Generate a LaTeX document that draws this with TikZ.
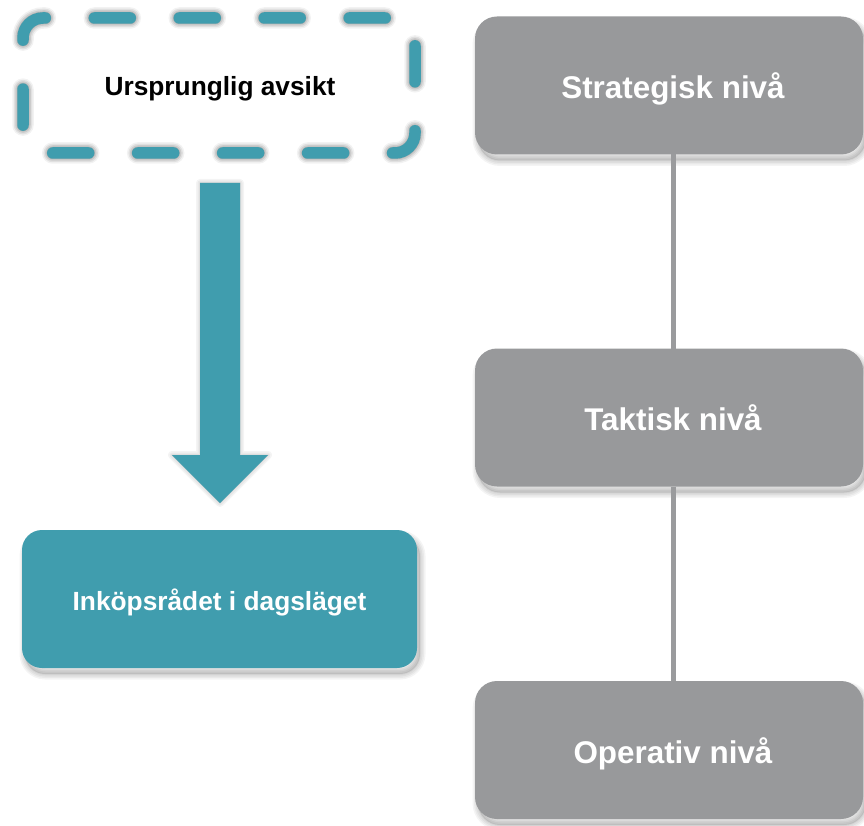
\documentclass[tikz,border=0pt]{standalone}
\usepackage{fontspec}
\setmainfont{Liberation Sans}
\usetikzlibrary{calc}
\definecolor{tealc}{HTML}{409DAE}
\definecolor{grayc}{HTML}{98999B}
\definecolor{linec}{HTML}{9A9B9D}
\tikzset{
  graybox/.style={fill=grayc, rounded corners=22pt, minimum width=388pt, minimum height=138pt, inner sep=0pt, outer sep=0pt, text=white, font=\bfseries\fontsize{31.4}{36}\selectfont, text height=26pt, text depth=0pt},
  tealbox/.style={fill=tealc, rounded corners=20pt, minimum width=395pt, minimum height=138pt, inner sep=0pt, outer sep=0pt, text=white, font=\bfseries\fontsize{26.3}{30}\selectfont, text height=22.8pt, text depth=0pt},
  origbox/.style={minimum width=392pt, minimum height=135pt, inner sep=0pt, outer sep=0pt, text=black, font=\bfseries\fontsize{26.3}{30}\selectfont, text height=19.8pt, text depth=0pt},
  dashline/.style={line width=11.5pt, line cap=round, dash pattern=on 36pt off 48.97pt, dash phase=2.3pt},
  levelline/.style={draw=linec, line width=5pt},
  shadowfill/.style={fill=black, opacity=0.10},
  shadowring/.style={draw=black, opacity=0.045, line join=round}
}
% soft shadow of a rounded box: centre x, centre y, width, height, radius
\newcommand{\boxshadow}[5]{%
  \begin{scope}[shift={(#1+3,#2-6)}]
    \fill[shadowfill, rounded corners=#5] (-#3/2,-#4/2) rectangle (#3/2,#4/2);
    \foreach \w in {2,5,8,11}{
      \draw[shadowring, line width=\w pt, rounded corners=#5] (-#3/2,-#4/2) rectangle (#3/2,#4/2);
    }
  \end{scope}}
\newcommand{\origpath}{($(orig.north west)+(0,-20)$) arc[start angle=180,end angle=90,radius=20pt] -- ($(orig.north east)+(-20,0)$) arc[start angle=90,end angle=0,radius=20pt] -- ($(orig.south east)+(0,20)$) arc[start angle=0,end angle=-90,radius=20pt] -- ($(orig.south west)+(20,0)$) arc[start angle=-90,end angle=-180,radius=20pt] -- cycle}
\newcommand{\arrowpath}{($(atop)+(-20,0)$) -- ($(atop)+(20,0)$) -- ($(atip)+(20,48)$) -- ($(atip)+(48,48)$) -- (atip) -- ($(atip)+(-48,48)$) -- ($(atip)+(-20,48)$) -- cycle}
\begin{document}
\begin{tikzpicture}[x=1pt,y=1pt]
\useasboundingbox (0,0) rectangle (864,-826);
\fill[white] (0,0) rectangle (864,-826);
% shadows of the solid boxes
\boxshadow{669}{-85.5}{388}{138}{22}
\boxshadow{669}{-417.5}{388}{138}{22}
\boxshadow{669}{-750}{388}{138}{22}
\boxshadow{219.5}{-599}{395}{138}{20}
% right column
\node[graybox] (strat) at (669,-85.5) {\hspace*{8pt}Strategisk nivå};
\node[graybox] (takt) at (669,-417.5) {\hspace*{8pt}Taktisk nivå};
\node[graybox] (oper) at (669,-750) {\hspace*{8pt}Operativ nivå};
\draw[levelline] ([xshift=4pt]strat.south) -- ([xshift=4pt]takt.north);
\draw[levelline] ([xshift=4pt]takt.south) -- ([xshift=4pt]oper.north);
% left column
\node[tealbox] (curr) at (219.5,-599) {Inköpsrådet i dagsläget};
% dashed box: shadow, border, text
\node[origbox] (orig) at (219,-85.5) {};
\begin{scope}[shift={(2.5,-6)}]
\foreach \w/\o in {21.5/0.05,18.5/0.07,15.5/0.09,12.5/0.12}{
  \draw[dashline, line width=\w pt, black, opacity=\o] \origpath;
}
\end{scope}
\draw[dashline, draw=tealc] \origpath;
\node[origbox, minimum width=0pt, minimum height=0pt] (origtext) at ($(orig.center)+(1,0)$) {Ursprunglig avsikt};
% block arrow
\coordinate (atop) at ($(orig.south)+(1,-30)$);
\coordinate (atip) at ($(curr.north)+(0.5,27)$);
\begin{scope}[shift={(3,-5)}]
\fill[shadowfill] \arrowpath;
\foreach \w in {2,5,8}{
  \draw[shadowring, line width=\w pt] \arrowpath;
}
\end{scope}
\fill[tealc] \arrowpath;
\end{tikzpicture}
\end{document}
